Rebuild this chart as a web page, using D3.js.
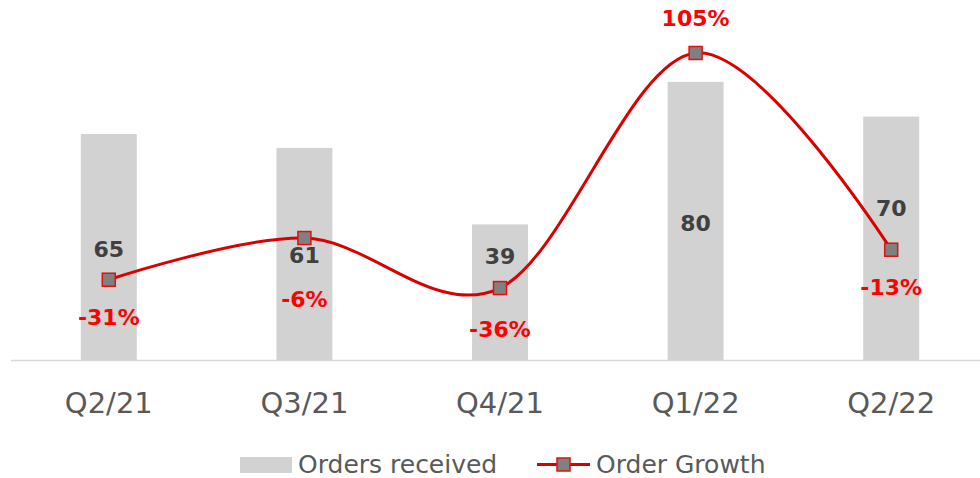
<!DOCTYPE html>
<html>
<head>
<meta charset="utf-8">
<script src="https://cdn.jsdelivr.net/npm/d3@7"></script>
<style>
  body { margin: 0; background: #fff; }
  svg { display: block; font-family: "DejaVu Sans", Verdana, sans-serif; }
</style>
</head>
<body>
<div id="chart"></div>
<script>
var quarters = ["Q2/21", "Q3/21", "Q4/21", "Q1/22", "Q2/22"];
var ordersReceived = [65, 61, 39, 80, 70];
var orderGrowth = [-31, -6, -36, 105, -13];

// label nudges (px), the original has them dragged by hand
var barLabelShift = [2, 1, -36, 2, -30];
var growthLabelShift = [37, 61, 41, -35, 37];

var width = 980, height = 478;
var baseY = 360;

var svg = d3.select("#chart")
    .append("svg")
    .attr("width", width)
    .attr("height", height);

var x = d3.scaleBand()
    .domain(quarters)
    .range([11, 989])
    .paddingInner(0.714)
    .paddingOuter(0.357);

var yBar = d3.scaleLinear().domain([0, 100]).range([baseY, 12.3]);
var yLine = d3.scaleLinear().domain([-80, 120]).range([361.4, 28]);

// bars
svg.append("g").selectAll("rect")
    .data(quarters)
    .enter().append("rect")
    .attr("x", d => x(d))
    .attr("width", x.bandwidth())
    .attr("y", (d, i) => yBar(ordersReceived[i]))
    .attr("height", (d, i) => baseY - yBar(ordersReceived[i]))
    .attr("fill", "#d2d2d2");

// axis line
svg.append("line")
    .attr("x1", 11).attr("x2", 980)
    .attr("y1", baseY + 0.5).attr("y2", baseY + 0.5)
    .attr("stroke", "#d9d9d9")
    .attr("stroke-width", 1.5);

var axis = svg.append("g")
    .attr("transform", "translate(0," + baseY + ")")
    .call(d3.axisBottom(x).tickSize(0).tickPadding(32));
axis.select(".domain").remove();
axis.selectAll("text")
    .attr("font-size", 29)
    .attr("font-family", "DejaVu Sans, sans-serif")
    .attr("fill", "#595959");

// bar value labels
svg.append("g").selectAll("text")
    .data(quarters)
    .enter().append("text")
    .attr("x", d => x(d) + x.bandwidth() / 2)
    .attr("y", (d, i) => (yBar(ordersReceived[i]) + baseY) / 2 + barLabelShift[i])
    .attr("dy", "0.36em")
    .attr("text-anchor", "middle")
    .attr("font-size", 22)
    .attr("font-weight", "bold")
    .attr("fill", "#404040")
    .text((d, i) => ordersReceived[i]);

// growth line
var pts = quarters.map((d, i) => [x(d) + x.bandwidth() / 2, yLine(orderGrowth[i])]);
svg.append("path")
    .attr("d", d3.line().curve(d3.curveCardinal.tension(0))(pts))
    .attr("fill", "none")
    .attr("stroke", "#d90000")
    .attr("stroke-width", 3);

svg.append("g").selectAll("rect")
    .data(pts)
    .enter().append("rect")
    .attr("x", d => d[0] - 6.5)
    .attr("y", d => d[1] - 6.5)
    .attr("width", 13)
    .attr("height", 13)
    .attr("fill", "#808080")
    .attr("stroke", "#e01010")
    .attr("stroke-width", 1.5);

svg.append("g").selectAll("text")
    .data(pts)
    .enter().append("text")
    .attr("x", d => d[0])
    .attr("y", (d, i) => d[1] + growthLabelShift[i])
    .attr("dy", "0.36em")
    .attr("text-anchor", "middle")
    .attr("font-size", 22)
    .attr("font-weight", "bold")
    .attr("fill", "#ff0000")
    .text((d, i) => orderGrowth[i] + "%");

// legend
var legend = svg.append("g");
legend.append("rect")
    .attr("x", 240).attr("y", 457)
    .attr("width", 52).attr("height", 16)
    .attr("fill", "#d2d2d2");
legend.append("text")
    .attr("x", 298).attr("y", 473)
    .attr("font-size", 25)
    .attr("fill", "#595959")
    .text("Orders received");
legend.append("line")
    .attr("x1", 537).attr("x2", 590)
    .attr("y1", 464.5).attr("y2", 464.5)
    .attr("stroke", "#d90000")
    .attr("stroke-width", 3);
legend.append("rect")
    .attr("x", 557).attr("y", 458)
    .attr("width", 13).attr("height", 13)
    .attr("fill", "#808080")
    .attr("stroke", "#e01010")
    .attr("stroke-width", 1.5);
legend.append("text")
    .attr("x", 596).attr("y", 473)
    .attr("font-size", 25)
    .attr("fill", "#595959")
    .text("Order Growth");
</script>
</body>
</html>
